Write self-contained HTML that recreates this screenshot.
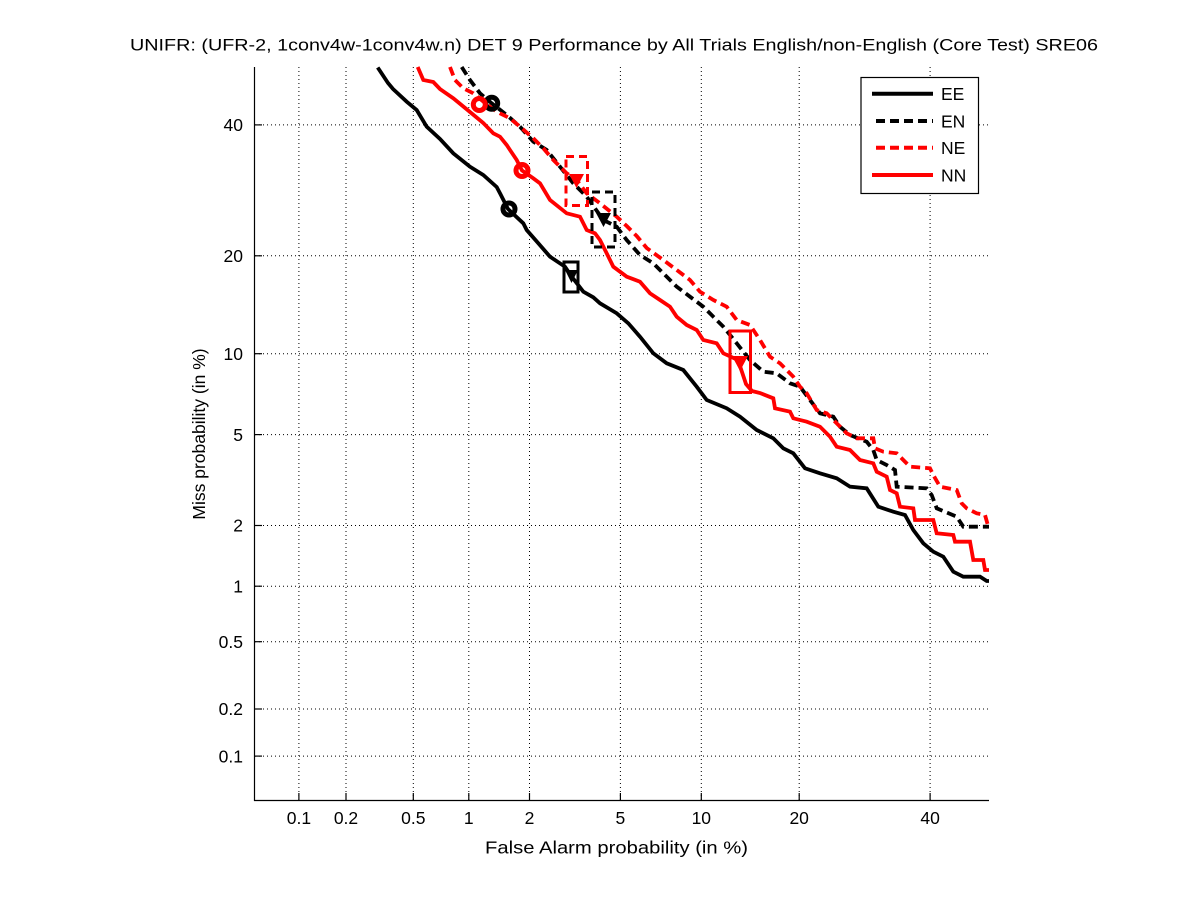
<!DOCTYPE html>
<html><head><meta charset="utf-8"><style>
html,body{margin:0;padding:0;background:#fff;}
svg{display:block;}
text{font-family:"Liberation Sans",Arial,sans-serif;fill:#000;}
</style></head><body>
<svg width="1201" height="900" viewBox="0 0 1201 900" xmlns="http://www.w3.org/2000/svg">
<rect x="0" y="0" width="1201" height="900" fill="#fff"/>
<!-- grid -->
<g stroke="#000" stroke-width="1" stroke-dasharray="1 3" fill="none">
<line x1="298.9" y1="67" x2="298.9" y2="800"/>
<line x1="346" y1="67" x2="346" y2="800"/>
<line x1="413.3" y1="67" x2="413.3" y2="800"/>
<line x1="468.8" y1="67" x2="468.8" y2="800"/>
<line x1="529.5" y1="67" x2="529.5" y2="800"/>
<line x1="620.4" y1="67" x2="620.4" y2="800"/>
<line x1="701.3" y1="67" x2="701.3" y2="800"/>
<line x1="799.2" y1="67" x2="799.2" y2="800"/>
<line x1="930.1" y1="67" x2="930.1" y2="800"/>
<line x1="255" y1="756.1" x2="989" y2="756.1"/>
<line x1="255" y1="709" x2="989" y2="709"/>
<line x1="255" y1="641.7" x2="989" y2="641.7"/>
<line x1="255" y1="586.2" x2="989" y2="586.2"/>
<line x1="255" y1="525.5" x2="989" y2="525.5"/>
<line x1="255" y1="434.6" x2="989" y2="434.6"/>
<line x1="255" y1="353.7" x2="989" y2="353.7"/>
<line x1="255" y1="255.8" x2="989" y2="255.8"/>
<line x1="255" y1="124.9" x2="989" y2="124.9"/>
</g>
<!-- axes -->
<g stroke="#000" stroke-width="1.2" fill="none">
<line x1="254.5" y1="67" x2="254.5" y2="801"/>
<line x1="254" y1="800.5" x2="989" y2="800.5"/>
<line x1="298.9" y1="800.5" x2="298.9" y2="793"/>
<line x1="346" y1="800.5" x2="346" y2="793"/>
<line x1="413.3" y1="800.5" x2="413.3" y2="793"/>
<line x1="468.8" y1="800.5" x2="468.8" y2="793"/>
<line x1="529.5" y1="800.5" x2="529.5" y2="793"/>
<line x1="620.4" y1="800.5" x2="620.4" y2="793"/>
<line x1="701.3" y1="800.5" x2="701.3" y2="793"/>
<line x1="799.2" y1="800.5" x2="799.2" y2="793"/>
<line x1="930.1" y1="800.5" x2="930.1" y2="793"/>
<line x1="254.5" y1="756.1" x2="262" y2="756.1"/>
<line x1="254.5" y1="709" x2="262" y2="709"/>
<line x1="254.5" y1="641.7" x2="262" y2="641.7"/>
<line x1="254.5" y1="586.2" x2="262" y2="586.2"/>
<line x1="254.5" y1="525.5" x2="262" y2="525.5"/>
<line x1="254.5" y1="434.6" x2="262" y2="434.6"/>
<line x1="254.5" y1="353.7" x2="262" y2="353.7"/>
<line x1="254.5" y1="255.8" x2="262" y2="255.8"/>
<line x1="254.5" y1="124.9" x2="262" y2="124.9"/>
</g>
<!-- tick labels -->
<g font-size="17.5" text-anchor="middle">
<text x="298.9" y="824">0.1</text>
<text x="346" y="824">0.2</text>
<text x="413.3" y="824">0.5</text>
<text x="468.8" y="824">1</text>
<text x="529.5" y="824">2</text>
<text x="620.4" y="824">5</text>
<text x="701.3" y="824">10</text>
<text x="799.2" y="824">20</text>
<text x="930.1" y="824">40</text>
</g>
<g font-size="17.5" text-anchor="end">
<text x="243" y="762.3">0.1</text>
<text x="243" y="715.2">0.2</text>
<text x="243" y="647.9">0.5</text>
<text x="243" y="592.4">1</text>
<text x="243" y="531.7">2</text>
<text x="243" y="440.8">5</text>
<text x="243" y="359.9">10</text>
<text x="243" y="262">20</text>
<text x="243" y="131">40</text>
</g>
<!-- labels -->
<text x="130" y="50.7" font-size="17" textLength="968" lengthAdjust="spacingAndGlyphs">UNIFR: (UFR-2, 1conv4w-1conv4w.n) DET 9 Performance by All Trials English/non-English (Core Test) SRE06</text>
<text x="485" y="853.3" font-size="17.5" textLength="263" lengthAdjust="spacingAndGlyphs">False Alarm probability (in %)</text>
<text transform="translate(205,434) rotate(-90)" x="0" y="0" font-size="17.5" text-anchor="middle">Miss probability (in %)</text>

<!-- curves -->
<g fill="none" stroke-width="3.8" stroke-linejoin="miter" stroke-linecap="butt">
<polyline stroke="#000" points="377.7,67.5 388,83 393,89 406.7,101.7 416.7,110 426.7,126.7 440,139 453.3,153.3 470,166.7 483.3,175 496.7,187 500,193.3 508,209 523.3,223.3 526.7,230 538.3,243.3 550,256.7 565,266.7 571.7,276.7 583.3,291.7 593.3,297.3 600,303.3 616.7,313.3 628.3,323.3 640,336.7 653.3,353.3 666.7,363.3 683.3,370 696.7,386.7 706.7,400 726.7,408.3 740,416.7 756.7,430 773.3,438.3 783.3,448.3 793.3,453.3 805,468.3 820,473.3 836.7,478.3 850,486.7 866.7,488.3 878.3,506.7 893.3,511.7 905,515 913.3,530 923.3,543.3 933.3,551.7 943.3,556.7 953.3,571.7 963.3,576.7 980,576.7 986.7,581 989,581"/>
<polyline stroke="#f00" points="417.7,67 423.3,80 433.3,82 440,89 453.3,98.3 470,112 483.3,123 493.3,133.3 500,136.7 506.7,145 510,150 516.7,160 522,170.5 533.3,178.3 540,183.3 550,200 566.7,213.3 580,216.7 586.7,230 595,233.3 600,240 606.7,253.3 613.3,266.7 626.7,276.7 640,281.7 650,293.3 660,300 670,306.7 676.7,316.7 686.7,325 696.7,330 703.3,340 716.7,343.3 723.3,353.3 738,360 746,384 752,391 760,393 773.3,398.3 775,408.3 790,411.7 793.3,418.3 806.7,421.7 820,426.7 830,436.7 836.7,446.7 850,450 860,460 873.3,463.3 876.7,471.7 886.7,476.7 890,490 896.7,493.3 900,506.7 913.3,508.3 915,520 933.3,520 936.7,533.3 953.3,535 955,541.7 970,541.7 973.3,560 983.3,560 985,570 989,570"/>
<polyline stroke="#000" stroke-dasharray="9 5" points="461.7,67 470,80 480,93.3 491.7,103.3 506.7,115 520,126.7 533.3,141.7 546.7,150 560,166.7 573.3,183.3 586.7,196.7 603.3,220 616.7,226.7 626.7,240 640,255 653.3,263.3 663.3,273.3 676.7,286.7 690,296.7 703.3,306.7 713.3,316.7 723.3,326.7 736.7,343.3 750,360 763.3,371.7 776.7,373.3 790,383.3 800,386.7 810,400 820,413.3 833.3,416.7 840,426.7 850,435 866.7,441.7 873.3,450 876.7,460 886.7,465 895,470 896.7,486.7 926.7,488.3 931.7,495 936.7,508.3 956.7,516.7 963.3,526.7 989,526.7"/>
<polyline stroke="#f00" stroke-dasharray="9 5" points="450,67 455,80 463.3,88.3 473.3,93.3 485,103 496.7,111.7 510,118.3 520,126.7 533.3,138.3 543.3,148.3 553.3,160 566.7,173.3 576.7,180 586.7,193.3 600,203.3 616.7,216.7 626.7,226 636.7,236 646.7,248 663.3,260 676.7,270 690,280 700,291.7 713.3,300 726.7,306.7 736.7,320 750,325 760,340 770,356.7 780,363.3 793.3,376.7 800,386.7 806.7,393.3 816.7,410 826.7,413.3 836.7,423.3 846.7,433.3 856.7,438.3 873.3,438.3 875,448.3 883.3,451.7 896.7,453.3 903.3,460 910,466.7 930,468.3 933.3,475 940,486.7 956.7,490 961.7,503.3 966.7,508.3 976.7,513.3 985,515 988.3,526.7"/>
</g>

<!-- markers -->
<g fill="none" stroke-width="5">
<circle cx="509" cy="209" r="6" stroke="#000"/>
<circle cx="491.7" cy="103.3" r="6" stroke="#000"/>
<circle cx="479.3" cy="104.5" r="6" stroke="#f00"/>
<circle cx="522" cy="170.5" r="6" stroke="#f00"/>
</g>
<g fill="none" stroke-width="3">
<rect x="564" y="262" width="14" height="30" stroke="#000"/>
<rect x="592" y="192" width="23" height="55" stroke="#000" stroke-dasharray="8 5"/>
<rect x="566" y="156.5" width="21.5" height="49" stroke="#f00" stroke-dasharray="8 5"/>
<rect x="730" y="331" width="20.5" height="61.5" stroke="#f00"/>
</g>
<g stroke="none">
<polygon points="565,270 578,270 571.5,283" fill="#000"/>
<polygon points="596,213 611,213 603.5,227" fill="#000"/>
<polygon points="569,174 584,174 576.5,188" fill="#f00"/>
<polygon points="732,356 748,356 740,371" fill="#f00"/>
</g>

<!-- legend -->
<rect x="861" y="77.5" width="117.5" height="116" fill="#fff" stroke="#000" stroke-width="1.2"/>
<g stroke-width="4" fill="none">
<line x1="872" y1="93.7" x2="933" y2="93.7" stroke="#000"/>
<line x1="876" y1="121" x2="933" y2="121" stroke="#000" stroke-dasharray="9 5"/>
<line x1="876" y1="147.7" x2="933" y2="147.7" stroke="#f00" stroke-dasharray="9 5"/>
<line x1="872" y1="175" x2="933" y2="175" stroke="#f00"/>
</g>
<g font-size="17.5">
<text x="941" y="100">EE</text>
<text x="941" y="127.3">EN</text>
<text x="941" y="154">NE</text>
<text x="941" y="181.3">NN</text>
</g>
</svg>
</body></html>
